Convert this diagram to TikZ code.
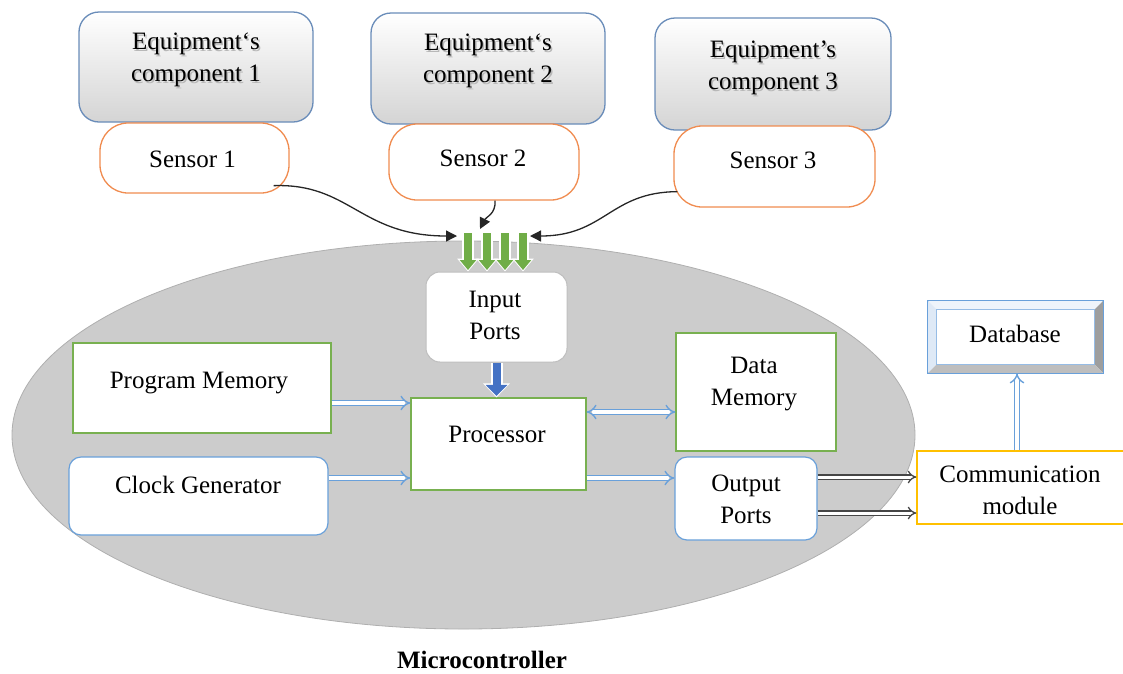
\documentclass[tikz,border=0pt]{standalone}
\usepackage{fontspec}
\setmainfont{Liberation Serif}
\usetikzlibrary{arrows.meta,calc,shapes.geometric}

\definecolor{eqedge}{RGB}{105,140,185}
\definecolor{eqbot}{RGB}{212,212,212}
\definecolor{sensedge}{RGB}{240,140,80}
\definecolor{grnedge}{RGB}{120,176,80}
\definecolor{bluedge}{RGB}{105,160,218}
\definecolor{yeledge}{RGB}{255,192,0}
\definecolor{grnfill}{RGB}{112,173,71}
\definecolor{bluefill}{RGB}{68,114,196}
\definecolor{mcfill}{RGB}{204,204,204}
\definecolor{mcedge}{RGB}{175,175,175}
\definecolor{inedge}{RGB}{190,190,190}
\definecolor{outarrow}{RGB}{70,70,70}
\definecolor{bevtop}{RGB}{238,244,251}
\definecolor{bevleft}{RGB}{222,233,246}
\definecolor{bevright}{RGB}{158,158,158}
\definecolor{bevbot}{RGB}{190,190,190}

\tikzset{
  eqbox/.style={draw=eqedge, line width=1.3pt, rounded corners=20pt,
    top color=white, bottom color=eqbot, inner sep=0pt},
  sensorbox/.style={draw=sensedge, line width=1.3pt, fill=white,
    rounded corners=28pt, inner sep=0pt},
  gbox/.style={draw=grnedge, line width=1.2pt, fill=white, inner sep=0pt},
  bbox/.style={draw=bluedge, line width=1.2pt, fill=white,
    rounded corners=12pt, inner sep=0pt},
  txt/.style={inner sep=0pt, align=center},
  shadowtxt/.style={txt, text=black!28},
  dbl/.style={draw=bluedge, line width=1.4pt, double=white,
    double distance=3.6pt, -{Implies[scale=1.3]}},
  dblboth/.style={dbl, {Implies[scale=1.3]}-{Implies[scale=1.3]}},
  dblgray/.style={draw=outarrow, line width=1.3pt, double=white,
    double distance=3pt, -{Implies[scale=1.3]}},
  curv/.style={line width=1.3pt, draw=black!85,
    -{Triangle[length=11pt,width=11pt]}},
  gout/.style={line width=12pt, draw=white,
    -{Triangle[length=13pt,width=21pt]}},
  gin/.style={line width=8.5pt, draw=grnfill, shorten >=1.5pt,
    -{Triangle[length=10pt,width=16pt]}},
  bout/.style={line width=12pt, draw=white,
    -{Triangle[length=14pt,width=26pt]}},
  bin/.style={line width=8pt, draw=bluefill, shorten >=1.5pt,
    -{Triangle[length=11pt,width=21pt]}},
}

\begin{document}
\begin{tikzpicture}[x=1pt, y=-1pt, font=\fontsize{25}{32}\selectfont]
\useasboundingbox (0,0) rectangle (1123,673);

% microcontroller body
\node[ellipse, draw=mcedge, line width=0.8pt, fill=mcfill,
  minimum width=903pt, minimum height=388pt, inner sep=0pt] (mcu) at (463.5,435) {};
\node[txt, anchor=base, font=\fontsize{25}{32}\selectfont\bfseries] (mcut) at (482,668) {Microcontroller};

% equipment components
\node[eqbox, minimum width=234pt, minimum height=110pt] (e1) at (196,67) {};
\node[eqbox, minimum width=234pt, minimum height=111pt] (e2) at (488,68.5) {};
\node[eqbox, minimum width=236pt, minimum height=112pt] (e3) at (773,74) {};
\node[shadowtxt] (e1s) at (197.5,62) {Equipment‘s\\component 1};
\node[shadowtxt] (e2s) at (489.5,62.5) {Equipment‘s\\component 2};
\node[shadowtxt] (e3s) at (774.5,70) {Equipment’s\\component 3};
\node[txt] (e1t) at (196,60) {Equipment‘s\\component 1};
\node[txt] (e2t) at (488,60.5) {Equipment‘s\\component 2};
\node[txt] (e3t) at (773,68) {Equipment’s\\component 3};

% sensors
\node[sensorbox, minimum width=189pt, minimum height=70pt] (s1) at (194.5,158) {};
\node[sensorbox, minimum width=190pt, minimum height=76pt] (s2) at (484,162) {};
\node[sensorbox, minimum width=201pt, minimum height=81pt] (s3) at (774.5,166.5) {};
\node[txt, anchor=base] (s1t) at (192.5,167) {Sensor 1};
\node[txt, anchor=base] (s2t) at (483,166) {Sensor 2};
\node[txt, anchor=base] (s3t) at (773,168) {Sensor 3};

% inner blocks
\node[draw=inedge, line width=1pt, fill=white, rounded corners=14pt,
  minimum width=141pt, minimum height=90pt, inner sep=0pt] (inp) at (496.5,317) {};
\node[txt] (inpt) at (495,315.5) {Input\\Ports};

\node[gbox, minimum width=175pt, minimum height=92pt] (proc) at (498.5,444) {};
\node[txt, anchor=base] (proct) at (497,442) {Processor};

\node[gbox, minimum width=258pt, minimum height=90pt] (pm) at (202,388) {};
\node[txt, anchor=base] (pmt) at (199,388) {Program Memory};

\node[bbox, minimum width=259pt, minimum height=78pt] (clk) at (198.5,496) {};
\node[txt, anchor=base] (clkt) at (198,493) {Clock Generator};

\node[gbox, minimum width=160pt, minimum height=118pt] (dm) at (756,392) {};
\node[txt] (dmt) at (754,384.5) {Data\\Memory};

\node[bbox, minimum width=142pt, minimum height=83pt] (op) at (746,498.5) {};
\node[txt] (opt) at (746,499) {Output\\Ports};

% communication module
\node[draw=yeledge, line width=1.2pt, fill=white, inner sep=0pt,
  minimum width=213pt, minimum height=73pt] (cm) at (1023.5,487.5) {};
\node[txt] (cmt) at (1020,490) {Communication\\module};

% database with bevelled frame
\node[draw=bluedge, line width=1pt, fill=white, inner sep=0pt,
  minimum width=175pt, minimum height=72pt] (db) at (1015.5,337) {};
\coordinate (dbinw) at ($(db.north west)+(9,9)$);
\coordinate (dbine) at ($(db.north east)+(-9,9)$);
\coordinate (dbise) at ($(db.south east)+(-9,-9)$);
\coordinate (dbisw) at ($(db.south west)+(9,-9)$);
\fill[bevtop] (db.north west) -- (db.north east) -- (dbine) -- (dbinw) -- cycle;
\fill[bevleft] (db.north west) -- (dbinw) -- (dbisw) -- (db.south west) -- cycle;
\fill[bevright] (db.north east) -- (db.south east) -- (dbise) -- (dbine) -- cycle;
\fill[bevbot] (db.south west) -- (dbisw) -- (dbise) -- (db.south east) -- cycle;
\draw[bluedge, line width=1pt] (db.north west) rectangle (db.south east);
\draw[bluedge!70, line width=0.8pt] (dbinw) rectangle (dbise);
\node[txt, anchor=base] (dbt) at (1015,342) {Database};

% sensor signals into the input ports
\coordinate (t1) at (457,236);
\coordinate (t2) at (480,229);
\coordinate (t3) at (530,236);
\draw[curv] ([xshift=-16pt,yshift=8pt]s1.south east) .. controls (350,183) and (360,236) .. (t1);
\draw[curv] ([xshift=11pt]s2.south) .. controls (496,214) and (486,217) .. (t2);
\draw[curv] ([xshift=4pt,yshift=16pt]s3.south west) .. controls (610,192) and (605,236) .. (t3);

\foreach \gx [count=\i] in {468,487,505,523} {
  \coordinate (g\i) at (\gx,233);
  \draw[gout] (g\i) -- (g\i |- inp.north);
  \draw[gin] (g\i) -- (g\i |- inp.north);
}

% input ports to processor
\draw[bout] (inp.south) -- (inp.south |- proc.north);
\draw[bin] (inp.south) -- (inp.south |- proc.north);

% internal buses
\draw[dbl] ([yshift=-15pt]pm.east) -- ([yshift=-15pt]pm.east -| proc.west);
\draw[dbl] ([yshift=18pt]clk.east) -- ([yshift=18pt]clk.east -| proc.west);
\draw[dblboth] ([yshift=32pt]proc.east) -- ([yshift=32pt]proc.east -| dm.west);
\draw[dbl] ([yshift=-34pt]proc.east) -- ([yshift=-34pt]proc.east -| op.west);

% output to communication module and database
\draw[dblgray] ([yshift=21.5pt]op.east) -- ([yshift=21.5pt]op.east -| cm.west);
\draw[dblgray] ([yshift=-14.5pt]op.east) -- ([yshift=-14.5pt]op.east -| cm.west);
\draw[dbl] ([xshift=1.5pt]db.south |- cm.north) -- ([xshift=1.5pt]db.south);
\end{tikzpicture}
\end{document}
